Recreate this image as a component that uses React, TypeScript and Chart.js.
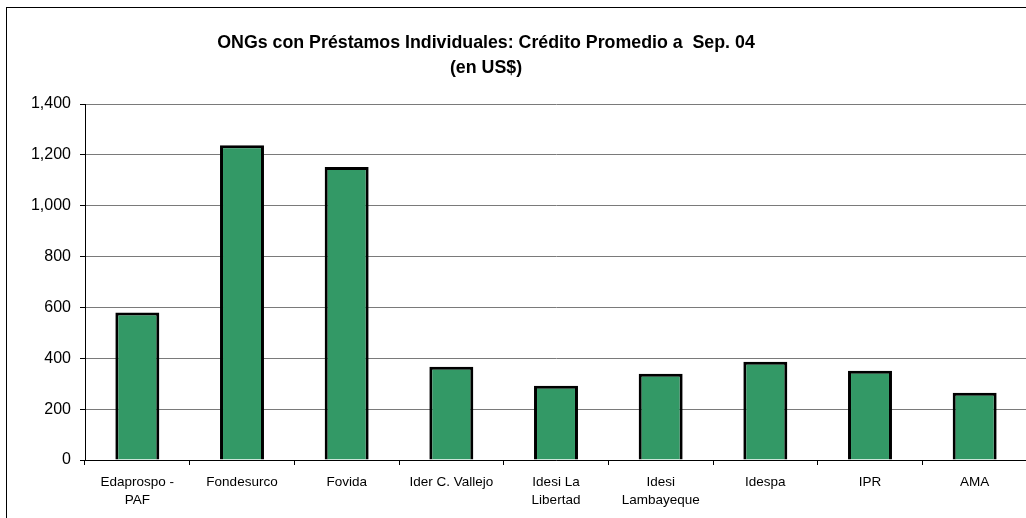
import React, { useEffect, useRef } from "react";
import { Chart, registerables } from "chart.js";

Chart.register(...registerables);

const categories: (string | string[])[] = [
  ["Edaprospo -", "PAF"],
  "Fondesurco",
  "Fovida",
  "Ider C. Vallejo",
  ["Idesi La", "Libertad"],
  ["Idesi", "Lambayeque"],
  "Idespa",
  "IPR",
  "AMA",
];
const creditoPromedio = [580, 1238, 1152, 367, 292, 339, 386, 351, 264];
const titleLines = [
  "ONGs con Préstamos Individuales: Crédito Promedio a  Sep. 04",
  "(en US$)",
];
const yTicks = [0, 200, 400, 600, 800, 1000, 1200, 1400];

const titlePlugin = {
  id: "customTitle",
  afterDraw(chart: any) {
    const ctx = chart.ctx;
    ctx.save();
    ctx.fillStyle = "#000";
    ctx.font = "bold 17.8px Arial, 'Liberation Sans', sans-serif";
    ctx.textAlign = "center";
    ctx.textBaseline = "middle";
    ctx.fillText(titleLines[0], 486, 43);
    ctx.fillText(titleLines[1], 486, 68);
    ctx.restore();
  },
};

export default function App() {
  const ref = useRef<HTMLCanvasElement>(null);
  useEffect(() => {
    if (!ref.current) return;
    const chart = new Chart(ref.current, {
      type: "bar",
      data: {
        labels: categories,
        datasets: [
          {
            data: creditoPromedio,
            backgroundColor: "#339966",
            borderColor: "#000",
            borderWidth: 3,
            categoryPercentage: 1,
            barPercentage: 0.42,
          },
        ],
      },
      options: {
        responsive: false,
        animation: false,
        devicePixelRatio: 1,
        layout: { padding: { top: 104, left: 0, right: 1, bottom: 0 } },
        plugins: {
          legend: { display: false },
          title: { display: false },
          tooltip: { enabled: false },
        },
        scales: {
          x: {
            offset: true,
            grid: {
              display: true,
              offset: true,
              drawOnChartArea: false,
              drawTicks: true,
              tickLength: 5,
              color: "#000",
            },
            border: { display: true, color: "#000", width: 1 },
            ticks: {
              color: "#000",
              font: { family: "Arial, 'Liberation Sans', sans-serif", size: 13.5, lineHeight: "18px" },
              padding: 8,
              maxRotation: 0,
              autoSkip: false,
            },
            afterFit(scale: any) {
              scale.height = 58;
            },
          },
          y: {
            min: 0,
            max: 1400,
            afterBuildTicks(scale: any) {
              scale.ticks = yTicks.map((v) => ({ value: v }));
            },
            grid: {
              color: "#7a7a7a",
              lineWidth: 1,
              drawTicks: true,
              tickLength: 5,
              tickColor: "#000",
            },
            border: { display: true, color: "#000", width: 1 },
            ticks: {
              color: "#000",
              font: { family: "Arial, 'Liberation Sans', sans-serif", size: 16 },
              padding: 9,
              callback: (v: any) => Number(v).toLocaleString("en-US"),
            },
            afterFit(scale: any) {
              scale.width = 85;
            },
          },
        },
      },
      plugins: [titlePlugin],
    });
    return () => chart.destroy();
  }, []);

  return (
    <div
      style={{
        position: "fixed",
        left: 0,
        top: 0,
        width: 1026,
        height: 518,
        overflow: "hidden",
        background: "#fff",
      }}
    >
      <div
        style={{
          position: "absolute",
          left: 6,
          top: 7,
          width: 1100,
          height: 600,
          borderLeft: "1px solid #000",
          borderTop: "1px solid #000",
        }}
      />
      <canvas
        ref={ref}
        width={1028}
        height={518}
        style={{ position: "absolute", left: 0, top: 0, width: 1028, height: 518 }}
      />
    </div>
  );
}
